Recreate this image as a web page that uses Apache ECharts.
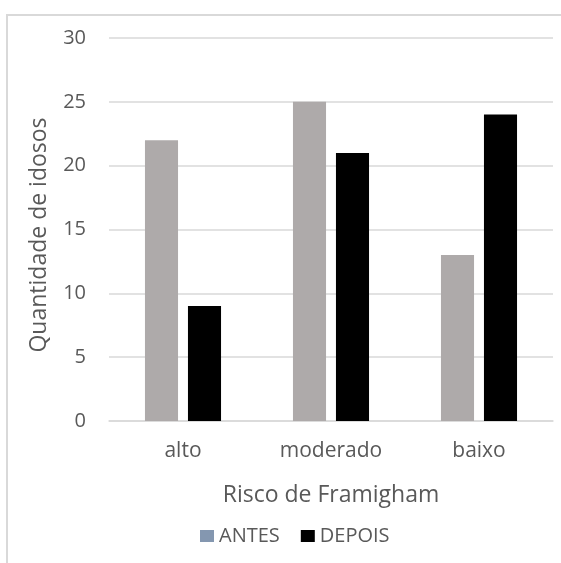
<!DOCTYPE html>
<html>
<head>
<meta charset="utf-8">
<script src="https://cdn.jsdelivr.net/npm/echarts@6/dist/echarts.min.js"></script>
<style>
  html, body { margin: 0; padding: 0; background: #fff; }
  #chart { width: 561px; height: 563px; }
</style>
</head>
<body>
<div id="chart"></div>
<script>
// Framingham risk categories, number of elderly before and after
const categories = ['alto', 'moderado', 'baixo'];
const antes = [22, 25, 13];
const depois = [9, 21, 24];
const yTicks = { min: 0, max: 30, interval: 5 };

const textColor = '#595959';
const fontFamily = '"Open Sans", "Noto Sans", sans-serif';

const chart = echarts.init(document.getElementById('chart'));
chart.setOption({
  animation: false,
  textStyle: { fontFamily: fontFamily },
  graphic: [{
    type: 'rect',
    shape: { x: 7, y: 15, width: 700, height: 700 },
    style: { fill: 'none', stroke: '#d9d9d9', lineWidth: 2 },
    silent: true
  }],
  grid: { left: 109, right: 8, top: 38, bottom: 142 },
  legend: {
    bottom: 12,
    left: 195,
    itemWidth: 14,
    itemHeight: 12,
    itemGap: 21,
    textStyle: { color: textColor, fontSize: 20, fontFamily: fontFamily },
    data: [
      { name: 'ANTES', icon: 'rect', itemStyle: { color: '#8497B0' } },
      { name: 'DEPOIS', icon: 'rect', itemStyle: { color: '#000000' } }
    ]
  },
  xAxis: {
    type: 'category',
    data: categories,
    name: 'Risco de Framigham',
    nameLocation: 'middle',
    nameGap: 63,
    nameTextStyle: { color: textColor, fontSize: 23, fontFamily: fontFamily },
    axisLine: { lineStyle: { color: '#d9d9d9', width: 1.5 } },
    axisTick: { show: false },
    axisLabel: { color: textColor, fontSize: 21, margin: 20, fontFamily: fontFamily }
  },
  yAxis: {
    type: 'value',
    min: yTicks.min,
    max: yTicks.max,
    interval: yTicks.interval,
    name: 'Quantidade de idosos',
    nameLocation: 'middle',
    nameGap: 58,
    nameRotate: 90,
    nameTextStyle: { color: textColor, fontSize: 23, fontFamily: fontFamily, padding: [0, 11, 0, 0] },
    axisLine: { show: false },
    axisTick: { show: false },
    axisLabel: { color: textColor, fontSize: 20, margin: 23, fontFamily: fontFamily },
    splitLine: { lineStyle: { color: '#d9d9d9', width: 1.5 } }
  },
  series: [
    {
      name: 'ANTES',
      type: 'bar',
      data: antes,
      barGap: '30%',
      barCategoryGap: '48.6%',
      itemStyle: { color: '#AEAAAA' }
    },
    {
      name: 'DEPOIS',
      type: 'bar',
      data: depois,
      itemStyle: { color: '#000000' }
    }
  ]
});
</script>
</body>
</html>
